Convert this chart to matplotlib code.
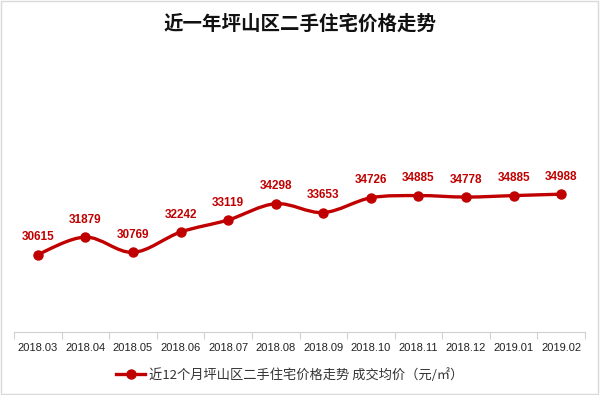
import numpy as np
import matplotlib
matplotlib.use("Agg")
import matplotlib.pyplot as plt
from matplotlib.path import Path
from matplotlib.patches import PathPatch, Rectangle
from matplotlib.lines import Line2D

plt.rcParams['font.family'] = ['Noto Sans CJK SC', 'DejaVu Sans']

months = ["2018.03", "2018.04", "2018.05", "2018.06", "2018.07", "2018.08",
          "2018.09", "2018.10", "2018.11", "2018.12", "2019.01", "2019.02"]
prices = [30615, 31879, 30769, 32242, 33119, 34298,
          33653, 34726, 34885, 34778, 34885, 34988]

title = "近一年坪山区二手住宅价格走势"
legend_label = "近12个月坪山区二手住宅价格走势 成交均价（元/㎡）"
red = "#C00000"


def smooth_path(x, y, t=1 / 6):
    # Excel-like smoothed line: cubic bezier through each point
    verts = [(x[0], y[0])]
    codes = [Path.MOVETO]
    n = len(x)
    for i in range(n - 1):
        x0, y0 = (x[i - 1], y[i - 1]) if i > 0 else (x[i], y[i])
        x3, y3 = (x[i + 2], y[i + 2]) if i + 2 < n else (x[i + 1], y[i + 1])
        c1 = (x[i] + (x[i + 1] - x0) * t, y[i] + (y[i + 1] - y0) * t)
        c2 = (x[i + 1] - (x3 - x[i]) * t, y[i + 1] - (y3 - y[i]) * t)
        verts += [c1, c2, (x[i + 1], y[i + 1])]
        codes += [Path.CURVE4] * 3
    return Path(verts, codes)


fig = plt.figure(figsize=(6, 3.95), dpi=100)
ax = fig.add_axes([14 / 600, 63 / 395, 571 / 600, 276 / 395])

xs = np.arange(len(months))
ax.add_patch(PathPatch(smooth_path(xs, prices), fill=False, edgecolor=red,
                       lw=2.4, capstyle="round", joinstyle="round"))
ax.plot(xs, prices, "o", color=red, ms=6.5, zorder=3)
for x, v in zip(xs, prices):
    ax.annotate(str(v), (x, v), xytext=(0, 12.5), textcoords="offset points",
                ha="center", va="center", color=red, fontsize=8.5,
                fontweight="bold", family="Liberation Sans")

ax.set_xlim(-0.5, len(months) - 0.5)
ax.set_ylim(25000, 45000)
ax.set_yticks([])
ax.set_xticks(np.arange(len(months) + 1) - 0.5)
ax.set_xticklabels([])
ax.set_xticks(xs, minor=True)
ax.set_xticklabels(months, minor=True, fontsize=8, color="#222222",
                   family="Liberation Sans")
ax.tick_params(axis="x", which="major", length=5, color="#d0d0d0", width=0.8)
ax.tick_params(axis="x", which="minor", length=0, pad=8)
for s in ["top", "left", "right"]:
    ax.spines[s].set_visible(False)
ax.spines["bottom"].set_color("#d0d0d0")
ax.spines["bottom"].set_linewidth(0.8)

fig.text(0.5, 1 - 24 / 395, title, ha="center", va="center", fontsize=14,
         fontweight="bold", color="#111111")

handle = Line2D([], [], color=red, lw=2.4, marker="o", ms=6.5)
fig.legend([handle], [legend_label], loc="center", bbox_to_anchor=(290 / 600, 1 - 375 / 395),
           frameon=False, fontsize=9.5, handlelength=2.2, handletextpad=0.3,
           labelcolor="#333333")

fig.add_artist(Rectangle((0.002, 0.003), 0.995, 0.994, transform=fig.transFigure,
                         fill=False, edgecolor="#d9d9d9", lw=1))

fig.savefig("out.png", dpi=100)
